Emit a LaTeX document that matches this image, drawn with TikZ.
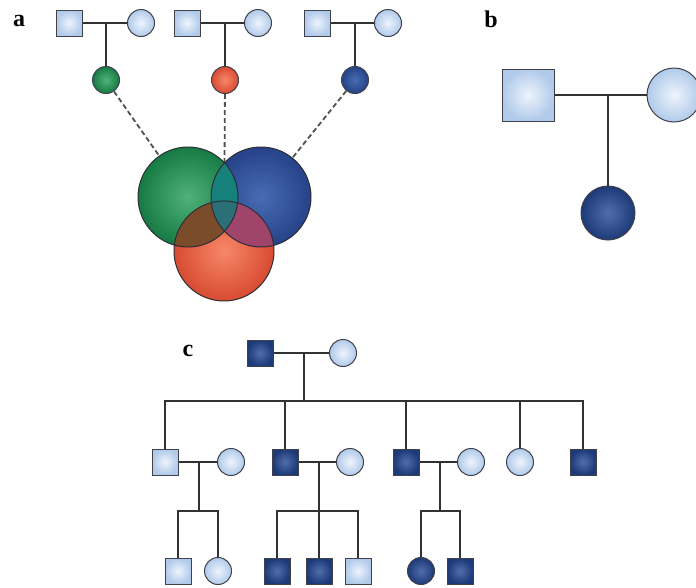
\documentclass[tikz,border=0pt]{standalone}
\usepackage{fontspec}
\setmainfont{Liberation Serif}
\definecolor{lbin}{RGB}{238,244,252}
\definecolor{lbout}{RGB}{176,202,234}
\definecolor{dbin}{RGB}{82,110,170}
\definecolor{dbout}{RGB}{28,58,120}
\definecolor{edgec}{RGB}{65,65,75}
\definecolor{lnc}{RGB}{50,50,50}
\definecolor{gin}{RGB}{80,178,120}
\definecolor{gout}{RGB}{22,122,68}
\definecolor{rin}{RGB}{248,135,105}
\definecolor{rout}{RGB}{215,75,50}
\definecolor{bin}{RGB}{72,108,180}
\definecolor{bout}{RGB}{38,66,136}
\definecolor{gb}{RGB}{22,128,122}
\definecolor{gr}{RGB}{122,76,42}
\definecolor{br}{RGB}{160,68,108}
\definecolor{gbr}{RGB}{42,112,118}
\begin{document}
\begin{tikzpicture}[x=1pt,y=-1pt,
  msq/.style={rectangle,draw=edgec,line width=1pt,minimum size=#1,inner sep=0pt,inner color=lbin,outer color=lbout},
  msq/.default=26pt,
  fci/.style={circle,draw=edgec,line width=1pt,minimum size=#1,inner sep=0pt,inner color=lbin,outer color=lbout},
  fci/.default=27pt,
  asq/.style={rectangle,draw=edgec,line width=1pt,minimum size=26pt,inner sep=0pt,inner color=dbin,outer color=dbout},
  aci/.style={circle,draw=edgec,line width=1pt,minimum size=#1,inner sep=0pt,inner color=dbin,outer color=dbout},
  aci/.default=27pt,
  gci/.style={circle,draw=edgec,line width=1pt,minimum size=27pt,inner sep=0pt,inner color=gin,outer color=gout},
  rci/.style={circle,draw=edgec,line width=1pt,minimum size=27pt,inner sep=0pt,inner color=rin,outer color=rout},
  bci/.style={circle,draw=edgec,line width=1pt,minimum size=27pt,inner sep=0pt,inner color=bin,outer color=bout},
  conn/.style={draw=lnc,line width=1.1pt},
  dashc/.style={draw=lnc!85!white,line width=1.8pt,dash pattern=on 5pt off 3pt},
  lab/.style={font=\bfseries\fontsize{24}{24}\selectfont,inner sep=0pt}
]
\useasboundingbox (0,0) rectangle (696,587);
% ---------- panel a ----------
\node[lab] (la) at (19,21) {a};
\node[msq] (a1m) at (69,23) {};
\node[fci] (a1f) at (141,23) {};
\node[msq] (a2m) at (187,23) {};
\node[fci] (a2f) at (258,23) {};
\node[msq] (a3m) at (317,23) {};
\node[fci] (a3f) at (388,23) {};
\coordinate (ma1) at (106,23);
\coordinate (ma2) at (225,23);
\coordinate (ma3) at (355,23);
\node[gci] (gs) at (106,80) {};
\node[rci] (rs) at (225,80) {};
\node[bci] (bs) at (355,80) {};
\draw[conn] (a1m) -- (a1f);
\draw[conn] (a2m) -- (a2f);
\draw[conn] (a3m) -- (a3f);
\draw[conn] (ma1) -- (gs);
\draw[conn] (ma2) -- (rs);
\draw[conn] (ma3) -- (bs);
\coordinate (G) at (188,197);
\coordinate (B) at (261,197);
\coordinate (R) at (224,251);
\draw[dashc] (gs) -- (G);
\draw[dashc] (rs) -- (R);
\draw[dashc] (bs) -- (B);
\shade[inner color=gin,outer color=gout] (G) circle (50);
\shade[inner color=bin,outer color=bout] (B) circle (50);
\shade[inner color=rin,outer color=rout] (R) circle (50);
\begin{scope}
  \clip (G) circle (50);
  \fill[gb] (B) circle (50);
  \fill[gr] (R) circle (50);
  \clip (B) circle (50);
  \fill[gbr] (R) circle (50);
\end{scope}
\begin{scope}
  \clip (B) circle (50);
  \fill[br] (R) circle (50);
  \clip (G) circle (50);
  \fill[gbr] (R) circle (50);
\end{scope}
\draw[draw=edgec!70!black,line width=1pt] (G) circle (50) (B) circle (50) (R) circle (50);
% ---------- panel b ----------
\node[lab] (lb) at (491,19) {b};
\node[msq=52pt] (bm) at (528,95) {};
\node[fci=54pt] (bf) at (674,95) {};
\coordinate (mb) at (608,95);
\node[aci=54pt] (bc) at (608,213) {};
\draw[conn] (bm) -- (bf);
\draw[conn] (mb) -- (bc);
% ---------- panel c ----------
\node[lab] (lc) at (188,351) {c};
\node[asq] (p1) at (260,353) {};
\node[fci] (p2) at (343,353) {};
\coordinate (mp) at (304,353);
\coordinate (sp) at (304,401);
\draw[conn] (p1) -- (p2);
\draw[conn] (mp) -- (sp);
% generation 2
\node[msq] (c1) at (165,462) {};
\node[fci] (c1w) at (231,462) {};
\node[asq] (c2) at (285,462) {};
\node[fci] (c2w) at (350,462) {};
\node[asq] (c3) at (406,462) {};
\node[fci] (c3w) at (471,462) {};
\node[fci] (c4) at (520,462) {};
\node[asq] (c5) at (583,462) {};
\coordinate (d1) at (165,401);
\coordinate (d2) at (285,401);
\coordinate (d3) at (406,401);
\coordinate (d4) at (520,401);
\coordinate (d5) at (583,401);
\draw[conn] (c1) -- (d1) -- (d5) -- (c5);
\draw[conn] (d2) -- (c2);
\draw[conn] (d3) -- (c3);
\draw[conn] (d4) -- (c4);
% couples gen 2
\draw[conn] (c1) -- (c1w);
\draw[conn] (c2) -- (c2w);
\draw[conn] (c3) -- (c3w);
\coordinate (m1) at (199,462);
\coordinate (s1) at (199,511);
\coordinate (m2) at (319,462);
\coordinate (m3) at (440,462);
\coordinate (s3) at (440,511);
% generation 3
\node[msq] (k11) at (178,571) {};
\node[fci] (k12) at (218,571) {};
\node[asq] (k21) at (277,571) {};
\node[asq] (k22) at (319,571) {};
\node[msq] (k23) at (358,571) {};
\node[aci] (k31) at (421,571) {};
\node[asq] (k32) at (460,571) {};
\coordinate (s1l) at (178,511);
\coordinate (s1r) at (218,511);
\coordinate (s2l) at (277,511);
\coordinate (s2r) at (358,511);
\coordinate (s3l) at (421,511);
\coordinate (s3r) at (460,511);
\draw[conn] (m1) -- (s1);
\draw[conn] (k11) -- (s1l) -- (s1r) -- (k12);
\draw[conn] (m2) -- (k22);
\draw[conn] (k21) -- (s2l) -- (s2r) -- (k23);
\draw[conn] (m3) -- (s3);
\draw[conn] (k31) -- (s3l) -- (s3r) -- (k32);
\end{tikzpicture}
\end{document}
